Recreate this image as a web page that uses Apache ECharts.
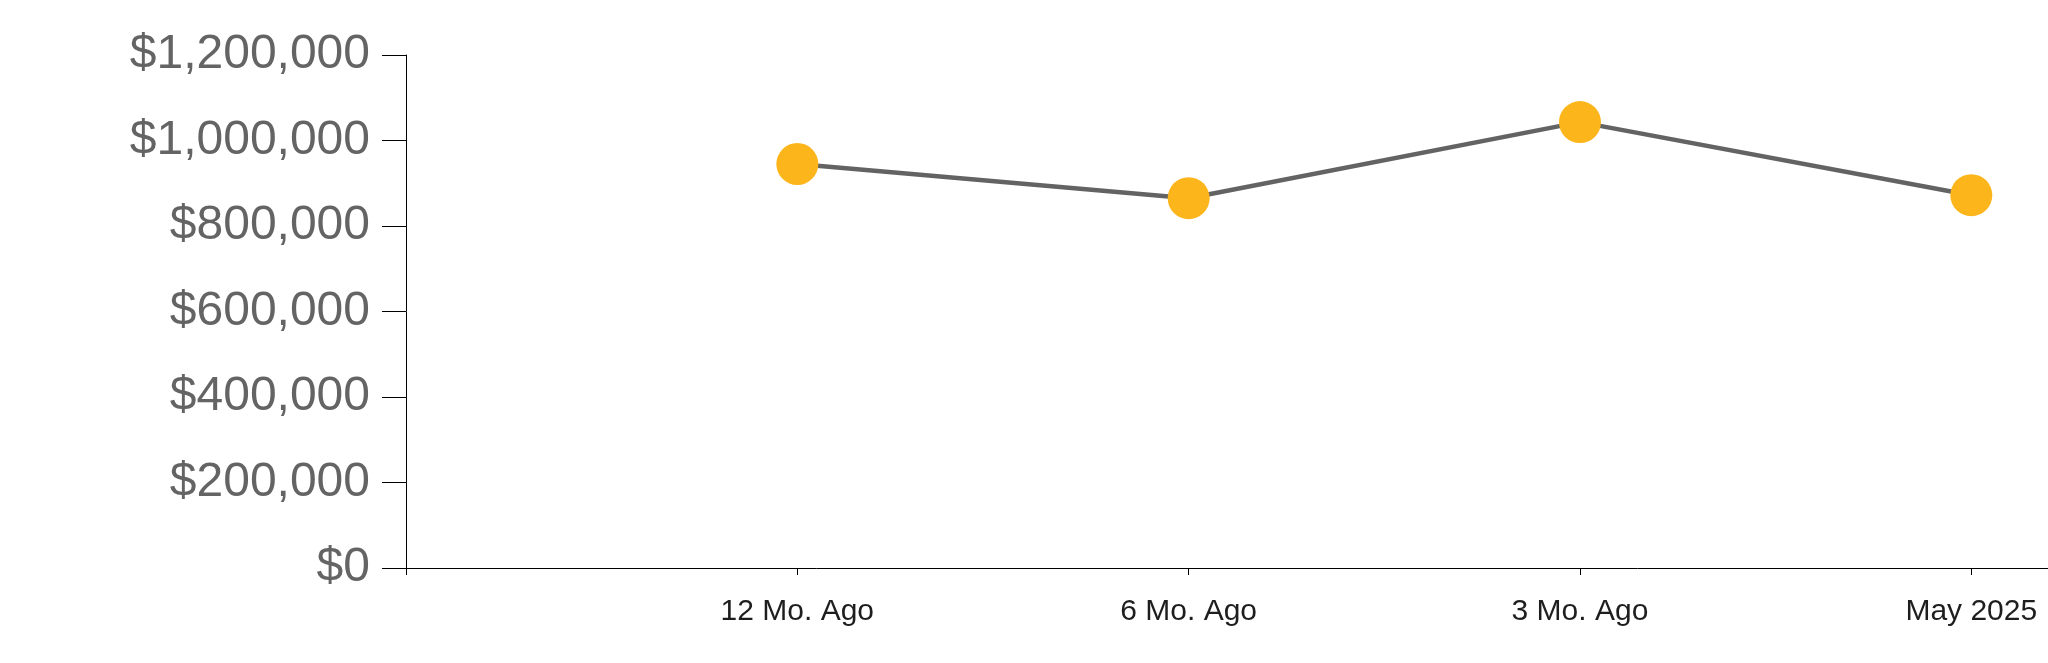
<!DOCTYPE html>
<html>
<head>
<meta charset="utf-8">
<script src="https://cdn.jsdelivr.net/npm/echarts@6/dist/echarts.min.js"></script>
<style>
html,body{margin:0;padding:0;background:#fff;}
#chart{width:2048px;height:663px;}
</style>
</head>
<body>
<div id="chart"></div>
<script>
const categories = ["12 Mo. Ago", "6 Mo. Ago", "3 Mo. Ago", "May 2025"];
const values = [945000, 865000, 1043000, 872000];
const yTicks = [0, 200000, 400000, 600000, 800000, 1000000, 1200000];

const points = values.map((v, i) => [i + 1, v]);
const fmtMoney = v => '$' + Math.round(v).toString().replace(/\B(?=(\d{3})+(?!\d))/g, ',');

const chart = echarts.init(document.getElementById('chart'), null, {renderer: 'canvas'});
chart.setOption({
  animation: false,
  backgroundColor: '#ffffff',
  grid: {left: 406, right: 0, top: 55, bottom: 95, containLabel: false},
  xAxis: {
    type: 'value',
    min: 0,
    max: 4.196,
    interval: 1,
    splitLine: {show: false},
    axisLine: {show: true, lineStyle: {color: '#000', width: 1}},
    axisTick: {show: true, length: 7, lineStyle: {color: '#000'}, customValues: [0, 1, 2, 3, 4]},
    axisLabel: {
      customValues: [1, 2, 3, 4],
      margin: 29,
      fontSize: 30,
      fontFamily: 'Liberation Sans, Arial, sans-serif',
      color: '#1e1e1e',
      formatter: v => categories[Math.round(v) - 1] || ''
    }
  },
  yAxis: {
    type: 'value',
    min: yTicks[0],
    max: yTicks[yTicks.length - 1],
    interval: 200000,
    splitLine: {show: false},
    axisLine: {show: true, lineStyle: {color: '#000', width: 1}},
    axisTick: {show: true, length: 24, lineStyle: {color: '#000'}},
    axisLabel: {
      margin: 36,
      fontSize: 48,
      fontFamily: 'Liberation Sans, Arial, sans-serif',
      color: '#646464',
      formatter: fmtMoney
    }
  },
  series: [{
    type: 'line',
    data: points,
    symbol: 'circle',
    symbolSize: 42,
    lineStyle: {color: '#636363', width: 4.5},
    itemStyle: {color: '#FCB51B', borderWidth: 0},
    z: 3
  }]
});
</script>
</body>
</html>
